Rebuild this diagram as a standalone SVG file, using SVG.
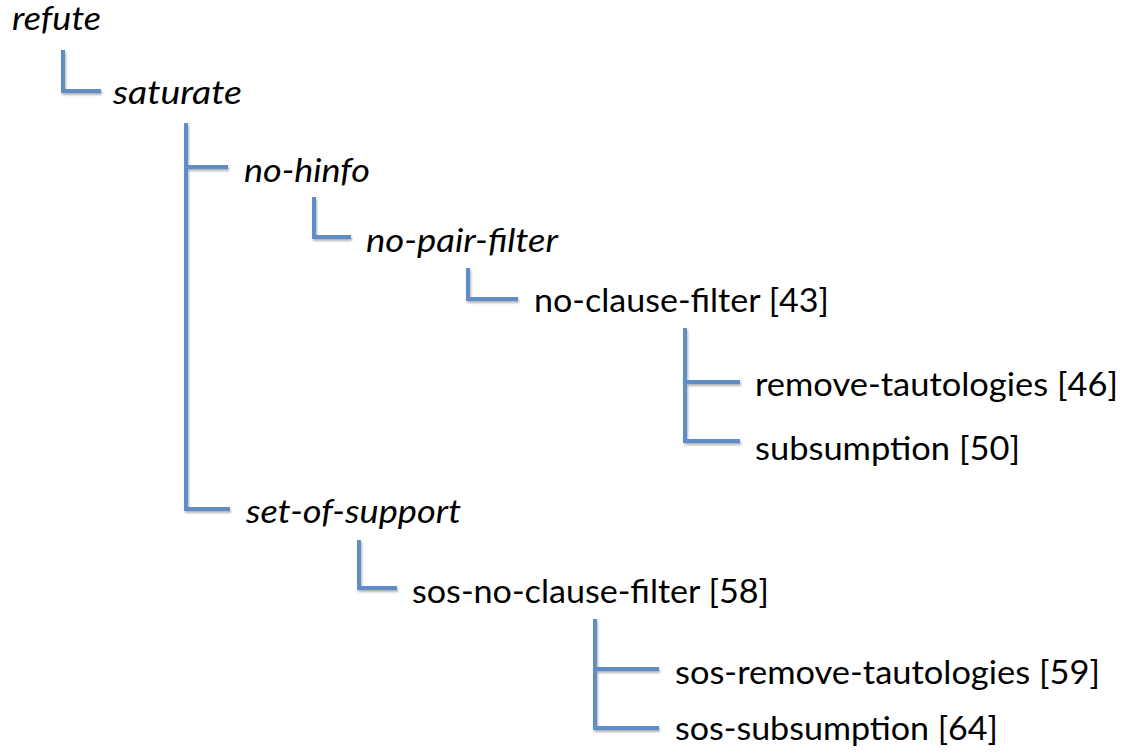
<svg xmlns="http://www.w3.org/2000/svg" width="1128" height="754" viewBox="0 0 1128 754">
<style>
.lbl{font-family:Lato,"Open Sans","Liberation Sans",sans-serif;font-size:32px;fill:#000}
.it{font-style:italic}
.conn path{fill:none;stroke:#5E8DC8;stroke-width:4;stroke-linecap:butt;stroke-linejoin:miter}
</style>
<defs>
<filter id="sh" x="-10%" y="-10%" width="130%" height="130%">
<feDropShadow dx="1" dy="2" stdDeviation="1.2" flood-color="#000" flood-opacity="0.3"/>
</filter>
</defs>
<rect width="1128" height="754" fill="#fff"/>
<g id="connectors" class="conn" filter="url(#sh)">
<path d="M63,50 V91 H101"/>
<path d="M186,123 V509 H230 M186,167 H228"/>
<path d="M314,197 V237 H351"/>
<path d="M468,268 V299 H518"/>
<path d="M685,328 V441 H740 M685,382 H740"/>
<path d="M359,540 V588 H397"/>
<path d="M595,619 V728 H659 M595,669 H659"/>
</g>
<g id="n-refute"><text class="lbl it" x="12" y="30" textLength="89" lengthAdjust="spacingAndGlyphs">refute</text></g>
<g id="n-saturate"><text class="lbl it" x="113" y="104" textLength="129" lengthAdjust="spacingAndGlyphs">saturate</text></g>
<g id="n-no-hinfo"><text class="lbl it" x="244" y="182" textLength="126" lengthAdjust="spacingAndGlyphs">no-hinfo</text></g>
<g id="n-no-pair-filter"><text class="lbl it" x="366" y="252" textLength="192" lengthAdjust="spacingAndGlyphs">no-pair-filter</text></g>
<g id="n-no-clause-filter"><text class="lbl" x="534" y="312" textLength="295" lengthAdjust="spacingAndGlyphs">no-clause-filter [43]</text></g>
<g id="n-remove-tautologies"><text class="lbl" x="755" y="396" textLength="363" lengthAdjust="spacingAndGlyphs">remove-tautologies [46]</text></g>
<g id="n-subsumption"><text class="lbl" x="755" y="460" textLength="265" lengthAdjust="spacingAndGlyphs">subsumption [50]</text></g>
<g id="n-set-of-support"><text class="lbl it" x="246" y="523" textLength="215" lengthAdjust="spacingAndGlyphs">set-of-support</text></g>
<g id="n-sos-no-clause-filter"><text class="lbl" x="412" y="603" textLength="357" lengthAdjust="spacingAndGlyphs">sos-no-clause-filter [58]</text></g>
<g id="n-sos-remove-tautologies"><text class="lbl" x="675" y="684" textLength="425" lengthAdjust="spacingAndGlyphs">sos-remove-tautologies [59]</text></g>
<g id="n-sos-subsumption"><text class="lbl" x="675" y="740" textLength="323" lengthAdjust="spacingAndGlyphs">sos-subsumption [64]</text></g>
</svg>
